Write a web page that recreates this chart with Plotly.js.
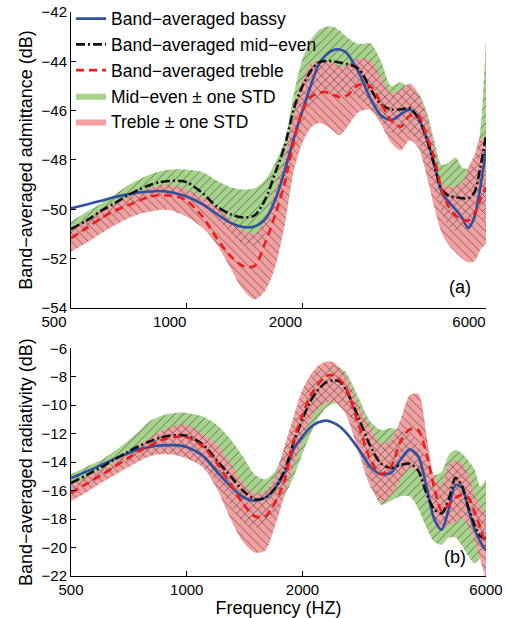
<!DOCTYPE html>
<html>
<head>
<meta charset="utf-8">
<script src="https://cdn.plot.ly/plotly-3.0.1.min.js"></script>
<style>html,body{margin:0;padding:0;background:#fff;}#chart{width:506px;height:618px;}</style>
</head>
<body>
<div id="chart"></div>
<script>
// Frequency grid (Hz)
const freq = [500,550,600,650,700,750,800,850,900,950,1000,1100,1200,1300,1400,1500,1600,1700,1800,1900,2000,2100,2200,2300,2400,2500,2600,2800,3000,3200,3400,3600,3800,4000,4200,4400,4600,4800,5000,5200,5400,5600,5800,6000];
const xTickVals = [500,1000,2000,6000];
const xTickText = ['500','1000','2000','6000'];

// (a) Band-averaged admittance (dB)
const admBassy  = [-49.96,-49.8,-49.65,-49.5,-49.4,-49.32,-49.28,-49.26,-49.3,-49.38,-49.48,-49.8,-50.2,-50.55,-50.72,-50.7,-50.4,-49.6,-48.4,-47.1,-46.0,-45.0,-44.15,-43.75,-43.55,-43.52,-43.65,-44.45,-45.5,-46.2,-46.38,-46.15,-45.95,-46.3,-47.1,-48.15,-49.3,-49.7,-50.0,-50.35,-50.76,-50.3,-49.1,-47.6];
const admMid    = [-50.8,-50.45,-50.05,-49.75,-49.45,-49.2,-49.02,-48.9,-48.85,-48.84,-48.9,-49.35,-49.9,-50.2,-50.33,-50.25,-49.6,-48.5,-47.4,-45.9,-45.0,-44.4,-44.05,-43.98,-44.0,-44.05,-44.1,-44.3,-45.1,-45.75,-45.95,-45.95,-45.9,-46.3,-47.1,-48.2,-49.2,-49.45,-49.5,-49.55,-49.55,-49.3,-48.3,-47.0];
const admTreble = [-51.17,-50.75,-50.35,-50.05,-49.85,-49.65,-49.5,-49.42,-49.44,-49.49,-49.65,-50.3,-51.2,-51.9,-52.3,-52.3,-51.35,-50.2,-48.9,-47.2,-46.0,-45.45,-45.28,-45.25,-45.36,-45.45,-45.4,-44.95,-45.0,-45.7,-46.4,-46.65,-46.2,-46.2,-47.0,-47.9,-49.2,-49.9,-50.25,-50.43,-50.45,-50.2,-49.6,-49.1];
const admMidUp  = [-50.5,-50.1,-49.75,-49.4,-49.05,-48.8,-48.6,-48.47,-48.4,-48.38,-48.4,-48.5,-48.85,-49.1,-49.2,-49.15,-48.8,-48.1,-47.2,-45.3,-43.9,-43.15,-42.75,-42.6,-42.6,-42.75,-43.0,-43.3,-43.27,-44.0,-45.0,-44.85,-45.1,-45.3,-46.0,-47.2,-48.2,-48.1,-47.9,-48.3,-48.35,-48.1,-46.8,-43.1];
const admMidLo  = [-51.1,-50.8,-50.45,-50.2,-49.95,-49.7,-49.5,-49.37,-49.32,-49.3,-49.4,-49.7,-50.3,-50.95,-51.4,-51.5,-51.0,-49.9,-48.6,-47.7,-46.6,-45.8,-45.45,-45.36,-45.4,-45.35,-45.2,-45.5,-45.9,-46.4,-46.9,-47.0,-46.9,-47.3,-48.2,-49.2,-50.1,-50.7,-50.9,-50.8,-50.75,-50.5,-50.0,-50.9];
const admTrebUp = [-50.75,-50.4,-50.03,-49.75,-49.5,-49.3,-49.15,-49.03,-49.0,-49.08,-49.2,-49.5,-49.93,-50.4,-50.85,-51.0,-50.4,-49.2,-47.9,-46.0,-44.8,-44.1,-43.97,-43.98,-44.08,-44.2,-44.15,-43.9,-43.95,-44.65,-45.3,-45.15,-44.9,-45.3,-46.2,-47.45,-48.9,-49.1,-49.05,-48.95,-48.3,-47.8,-47.1,-47.1];
const admTrebLo = [-51.72,-51.35,-50.97,-50.65,-50.38,-50.2,-50.1,-50.03,-50.03,-50.15,-50.3,-50.75,-51.45,-52.4,-53.25,-53.65,-53.3,-52.3,-50.6,-48.4,-47.3,-46.7,-46.5,-46.6,-46.8,-47.0,-46.7,-46.05,-45.97,-46.55,-47.3,-47.6,-47.2,-47.5,-48.6,-49.9,-50.95,-51.45,-51.75,-52.0,-52.15,-52.1,-51.65,-51.4];

// (b) Band-averaged radiativity (dB)
const radBassy  = [-15.12,-14.65,-14.19,-13.75,-13.4,-13.1,-12.93,-12.83,-12.8,-12.82,-12.93,-13.55,-14.7,-15.7,-16.45,-16.7,-16.5,-15.8,-14.7,-13.05,-12.2,-11.55,-11.2,-11.08,-11.22,-11.5,-11.95,-13.1,-14.3,-14.85,-14.75,-13.8,-13.1,-13.6,-15.7,-18.0,-18.75,-17.3,-15.6,-15.8,-17.3,-18.7,-19.6,-20.2];
const radMid    = [-15.47,-14.9,-14.35,-13.8,-13.3,-12.88,-12.55,-12.3,-12.15,-12.1,-12.15,-12.75,-13.9,-15.0,-16.0,-16.6,-16.5,-15.8,-14.5,-12.55,-10.96,-9.7,-8.9,-8.4,-8.25,-8.33,-8.95,-10.9,-12.85,-14.1,-14.4,-14.2,-14.1,-14.6,-16.2,-17.3,-17.6,-16.6,-15.1,-15.7,-17.2,-18.4,-19.2,-19.4];
const radTreble = [-16.18,-15.5,-14.9,-14.3,-13.75,-13.25,-12.85,-12.5,-12.28,-12.2,-12.22,-12.9,-14.1,-15.55,-16.9,-17.8,-17.8,-16.8,-15.2,-12.4,-10.7,-9.3,-8.5,-7.95,-7.9,-8.2,-8.85,-11.4,-13.8,-14.85,-14.3,-12.5,-11.7,-11.75,-13.4,-15.8,-17.4,-17.0,-16.5,-16.3,-16.5,-17.5,-18.6,-19.9];
const radMidUp  = [-14.85,-14.3,-13.85,-13.2,-12.55,-11.85,-11.15,-10.8,-10.6,-10.52,-10.55,-10.8,-11.4,-12.4,-13.6,-14.85,-15.2,-14.6,-12.9,-11.3,-9.7,-8.4,-7.65,-7.35,-7.25,-7.35,-7.75,-9.5,-11.15,-11.74,-11.6,-11.8,-12.0,-12.8,-14.0,-14.9,-14.7,-13.5,-13.15,-13.4,-13.9,-14.5,-15.7,-15.2];
const radMidLo  = [-16.3,-15.6,-15.0,-14.5,-14.0,-13.7,-13.5,-13.4,-13.4,-13.5,-13.7,-14.3,-15.5,-17.0,-18.2,-18.6,-18.3,-17.4,-16.3,-15.0,-13.4,-12.0,-10.9,-10.2,-9.9,-9.9,-10.3,-12.3,-15.2,-17.0,-16.7,-16.4,-16.4,-17.3,-18.6,-19.6,-19.8,-19.3,-19.3,-19.9,-20.6,-21.1,-20.7,-19.5];
const radTrebUp = [-15.6,-15.0,-14.5,-14.0,-13.4,-12.85,-12.3,-11.9,-11.55,-11.38,-11.38,-12.0,-12.8,-14.1,-15.45,-16.2,-16.05,-15.0,-12.8,-10.7,-8.9,-7.85,-7.2,-6.95,-6.97,-7.4,-8.1,-10.0,-11.6,-12.7,-12.4,-11.0,-9.3,-9.2,-12.0,-15.0,-15.6,-14.2,-13.9,-14.1,-14.9,-16.2,-17.1,-17.6];
const radTrebLo = [-16.75,-16.1,-15.45,-14.9,-14.4,-13.95,-13.6,-13.45,-13.45,-13.55,-13.75,-14.35,-15.9,-18.0,-19.6,-20.35,-20.2,-18.4,-16.2,-14.2,-12.4,-11.0,-10.2,-9.85,-9.74,-10.1,-10.7,-13.3,-15.7,-16.8,-16.35,-15.24,-14.4,-14.7,-16.3,-18.3,-18.8,-18.4,-18.2,-17.9,-18.5,-19.5,-20.85,-22.3];

const GREEN = 'rgb(166,212,138)';
const PINK  = 'rgb(244,160,160)';
const HATCH = 'rgba(85,85,85,0.85)';
const FONT  = 'Liberation Sans, Arial, Helvetica, sans-serif';

function band(xa, ya, lo, up, opts) {
  const base = {x: freq, xaxis: xa, yaxis: ya, mode: 'lines', line: {width: 0, shape: 'spline', smoothing: 0.8}, hoverinfo: 'skip'};
  const lower = Object.assign({}, base, {y: lo, showlegend: false});
  const upper = Object.assign({}, base, {y: up, fill: 'tonexty', fillcolor: opts.fillcolor, showlegend: !!opts.name, name: opts.name || '', legendrank: opts.rank || 1000, legendgroup: opts.group || undefined});
  if (opts.pattern) {
    upper.fillpattern = {shape: opts.pattern, fgcolor: HATCH, bgcolor: 'rgba(0,0,0,0)', size: 6, solidity: 0.15, fillmode: 'replace'};
    upper.fillcolor = 'rgba(0,0,0,0)';
  }
  return [lower, upper];
}

function panel(xa, ya, bassy, mid, treble, midUp, midLo, trebUp, trebLo, legend) {
  let t = [];
  t = t.concat(band(xa, ya, midLo, midUp, {fillcolor: GREEN, name: legend ? 'Mid\u2212even \u00b1 one STD' : null, rank: 4, group: 'g4'}));
  t = t.concat(band(xa, ya, trebLo, trebUp, {fillcolor: PINK, name: legend ? 'Treble \u00b1 one STD' : null, rank: 5, group: 'g5'}));
  t = t.concat(band(xa, ya, midLo, midUp, {pattern: '/'}));
  t = t.concat(band(xa, ya, trebLo, trebUp, {pattern: '\\'}));
  t.push({x: freq, y: bassy, xaxis: xa, yaxis: ya, mode: 'lines', name: 'Band\u2212averaged bassy', showlegend: legend, legendrank: 1, legendgroup: 'g1',
          line: {color: '#2f4f9f', width: 2.6, shape: 'spline', smoothing: 0.8}});
  t.push({x: freq, y: mid, xaxis: xa, yaxis: ya, mode: 'lines', name: 'Band\u2212averaged mid\u2212even', showlegend: legend, legendrank: 2, legendgroup: 'g2',
          line: {color: '#111111', width: 2.6, dash: '9px,3px,2px,3px', shape: 'spline', smoothing: 0.8}});
  t.push({x: freq, y: treble, xaxis: xa, yaxis: ya, mode: 'lines', name: 'Band\u2212averaged treble', showlegend: legend, legendrank: 3, legendgroup: 'g3',
          line: {color: '#ee1c1c', width: 2.6, dash: '8px,5px', shape: 'spline', smoothing: 0.8}});
  return t;
}

const data = panel('x', 'y', admBassy, admMid, admTreble, admMidUp, admMidLo, admTrebUp, admTrebLo, true)
  .concat(panel('x2', 'y2', radBassy, radMid, radTreble, radMidUp, radMidLo, radTrebUp, radTrebLo, false));

const xCommon = {
  type: 'log', range: [Math.log10(500), Math.log10(6000)], tickmode: 'array', tickvals: xTickVals, ticktext: xTickText,
  ticks: 'inside', ticklen: 5, tickcolor: '#000', showline: true, linecolor: '#000', linewidth: 1,
  showgrid: false, zeroline: false, tickfont: {family: FONT, size: 15, color: '#000'}
};
const yCommon = {
  dtick: 2, ticks: 'inside', ticklen: 5, tickcolor: '#000', showline: true, linecolor: '#000', linewidth: 1,
  showgrid: false, zeroline: false, tickfont: {family: FONT, size: 15, color: '#000'}
};

const layout = {
  width: 506, height: 618,
  margin: {l: 71, r: 20, t: 12, b: 42, autoexpand: false},
  paper_bgcolor: '#fff', plot_bgcolor: '#fff',
  font: {family: FONT, color: '#000'},
  showlegend: true,
  legend: {x: 0, y: 1.02, xanchor: 'left', yanchor: 'top', bgcolor: 'rgba(0,0,0,0)', borderwidth: 0,
           font: {family: FONT, size: 17.5, color: '#000'}, traceorder: 'normal', tracegroupgap: 0},
  xaxis: Object.assign({}, xCommon, {anchor: 'y', ticklabelshift: -17}),
  yaxis: Object.assign({}, yCommon, {domain: [0.4752, 1], range: [-54, -42], tick0: -54, anchor: 'x',
           title: {text: 'Band\u2212averaged admittance (dB)', font: {family: FONT, size: 18, color: '#000'}, standoff: 4}}),
  xaxis2: Object.assign({}, xCommon, {anchor: 'y2',
           title: {text: 'Frequency (HZ)', font: {family: FONT, size: 18, color: '#000'}, standoff: 2}}),
  yaxis2: Object.assign({}, yCommon, {domain: [0, 0.4037], range: [-22, -6], tick0: -22, anchor: 'x2',
           title: {text: 'Band\u2212averaged radiativity (dB)', font: {family: FONT, size: 18, color: '#000'}, standoff: 4}}),
  annotations: [
    {xref: 'x domain', yref: 'y domain', x: 0.937, y: 0.071, xanchor: 'center', yanchor: 'middle', text: '(a)', showarrow: false, font: {family: FONT, size: 18, color: '#000'}},
    {xref: 'x2 domain', yref: 'y2 domain', x: 0.925, y: 0.083, xanchor: 'center', yanchor: 'middle', text: '(b)', showarrow: false, font: {family: FONT, size: 18, color: '#000'}}
  ]
};

Plotly.newPlot('chart', data, layout, {displayModeBar: false, staticPlot: true});
</script>
</body>
</html>
